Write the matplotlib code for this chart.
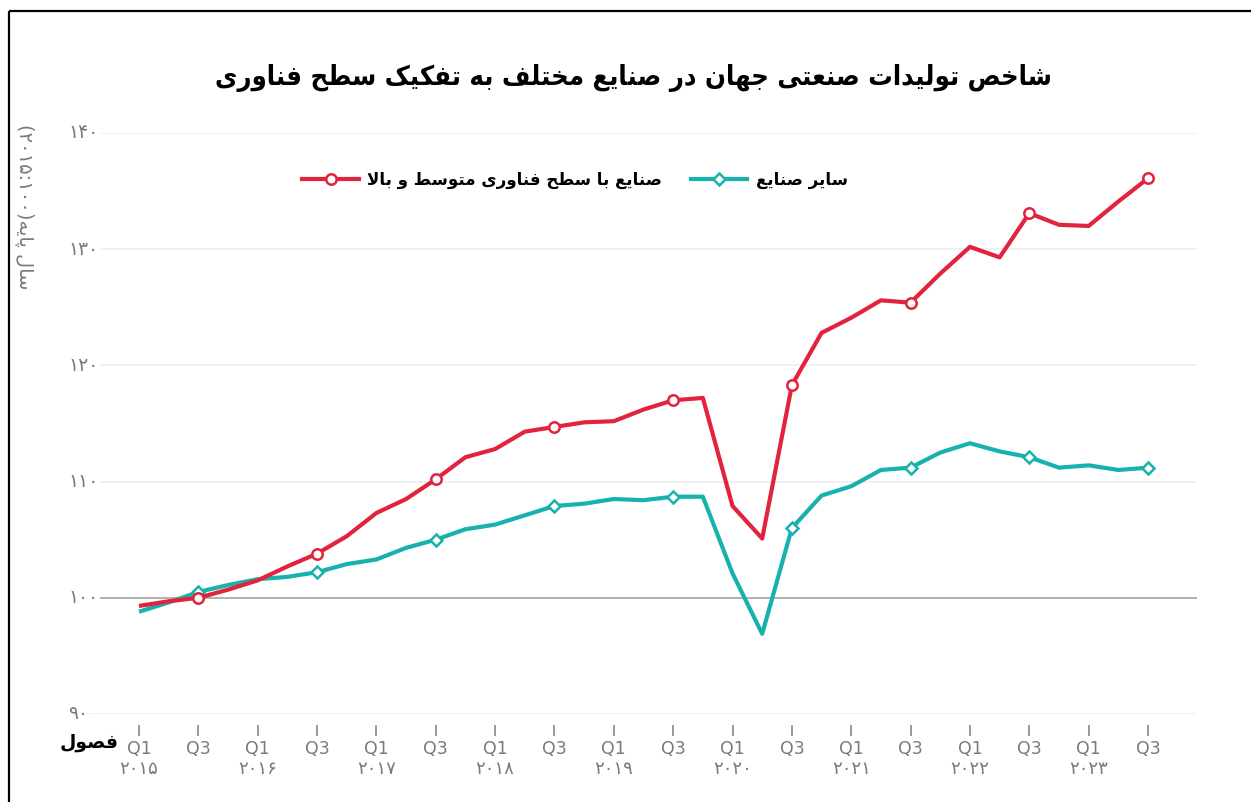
import matplotlib
matplotlib.use("Agg")
import matplotlib.pyplot as plt
from matplotlib.lines import Line2D
import matplotlib.transforms as mtransforms
from matplotlib import font_manager as fm

# ---------------- data ----------------
quarters = ["Q1", "Q2", "Q3", "Q4"] * 8 + ["Q1", "Q2", "Q3"]
high_tech = [99.3, 99.7, 100.0, 100.7, 101.5, 102.7, 103.8, 105.3, 107.3, 108.5,
             110.2, 112.1, 112.8, 114.3, 114.7, 115.1, 115.2, 116.2, 117.0, 117.2,
             107.9, 105.1, 118.3, 122.8, 124.1, 125.6, 125.4, 127.9, 130.2, 129.3,
             133.1, 132.1, 132.0, 134.1, 136.1]
other = [98.8, 99.6, 100.5, 101.1, 101.6, 101.8, 102.2, 102.9, 103.3, 104.3,
         105.0, 105.9, 106.3, 107.1, 107.9, 108.1, 108.5, 108.4, 108.7, 108.7,
         102.1, 96.9, 106.0, 108.8, 109.6, 111.0, 111.2, 112.5, 113.3, 112.6,
         112.1, 111.2, 111.4, 111.0, 111.2]
year_labels = ["۲۰۱۵", "۲۰۱۶", "۲۰۱۷", "۲۰۱۸", "۲۰۱۹", "۲۰۲۰", "۲۰۲۱", "۲۰۲۲", "۲۰۲۳"]
y_values = [90, 100, 110, 120, 130, 140]
y_labels = ["۹۰", "۱۰۰", "۱۱۰", "۱۲۰", "۱۳۰", "۱۴۰"]
title_text = "شاخص تولیدات صنعتی جهان در صنایع مختلف به تفکیک سطح فناوری"
series_names = ["صنایع با سطح فناوری متوسط و بالا", "سایر صنایع"]
ylabel_words = "سال پایه"
ylabel_base = "(۲۰۱۵:۱۰۰)"
xlabel_text = "فصول"

# ---------------- minimal Persian shaping ----------------
FORMS = {
    'ا': ('\uFE8D', '\uFE8E', None, None),
    'ب': ('\uFE8F', '\uFE90', '\uFE91', '\uFE92'),
    'پ': ('\uFB56', '\uFB57', '\uFB58', '\uFB59'),
    'ت': ('\uFE95', '\uFE96', '\uFE97', '\uFE98'),
    'ج': ('\uFE9D', '\uFE9E', '\uFE9F', '\uFEA0'),
    'ح': ('\uFEA1', '\uFEA2', '\uFEA3', '\uFEA4'),
    'خ': ('\uFEA5', '\uFEA6', '\uFEA7', '\uFEA8'),
    'د': ('\uFEA9', '\uFEAA', None, None),
    'ر': ('\uFEAD', '\uFEAE', None, None),
    'س': ('\uFEB1', '\uFEB2', '\uFEB3', '\uFEB4'),
    'ش': ('\uFEB5', '\uFEB6', '\uFEB7', '\uFEB8'),
    'ص': ('\uFEB9', '\uFEBA', '\uFEBB', '\uFEBC'),
    'ط': ('\uFEC1', '\uFEC2', '\uFEC3', '\uFEC4'),
    'ع': ('\uFEC9', '\uFECA', '\uFECB', '\uFECC'),
    'ف': ('\uFED1', '\uFED2', '\uFED3', '\uFED4'),
    'ک': ('\uFB8E', '\uFB8F', '\uFB90', '\uFB91'),
    'ل': ('\uFEDD', '\uFEDE', '\uFEDF', '\uFEE0'),
    'م': ('\uFEE1', '\uFEE2', '\uFEE3', '\uFEE4'),
    'ن': ('\uFEE5', '\uFEE6', '\uFEE7', '\uFEE8'),
    'و': ('\uFEED', '\uFEEE', None, None),
    'ه': ('\uFEE9', '\uFEEA', '\uFEEB', '\uFEEC'),
    'ی': ('\uFBFC', '\uFBFD', '\uFBFE', '\uFBFF'),
}


def joins_left(ch):
    return ch in FORMS and FORMS[ch][2] is not None


def rtl(text):
    out = []
    i = 0
    n = len(text)
    while i < n:
        ch = text[i]
        prev = text[i - 1] if i > 0 else ''
        nxt = text[i + 1] if i + 1 < n else ''
        if ch not in FORMS:
            out.append(ch)
            i += 1
            continue
        jp = joins_left(prev)
        if ch == 'ل' and nxt == 'ا':
            out.append('\uFEFC' if jp else '\uFEFB')
            i += 2
            continue
        jn = joins_left(ch) and nxt in FORMS
        iso, fin, ini, med = FORMS[ch]
        if jp and jn:
            out.append(med)
        elif jp:
            out.append(fin)
        elif jn:
            out.append(ini)
        else:
            out.append(iso)
        i += 1
    return ''.join(reversed(out))


# condensed bold font for the title if available
title_font = None
for f in fm.fontManager.ttflist:
    if "DejaVuSansCondensed-Bold.ttf" in f.fname:
        title_font = f.fname
        break

# ---------------- figure ----------------
W, H = 1251, 802
fig = plt.figure(figsize=(W / 100, H / 100), dpi=100)
fig.patch.set_facecolor("white")

ax_left, ax_right, ax_top, ax_bot = 68, 1197, 133, 714
ax = fig.add_axes([ax_left / W, 1 - ax_bot / H, (ax_right - ax_left) / W, (ax_bot - ax_top) / H])

RED = "#E2233D"
TEAL = "#17B2AE"
GRAY_TXT = "#7a7a7a"

x = list(range(len(high_tech)))
px_per_q = (1148 - 139) / 34.0
x0 = -(139 - ax_left) / px_per_q
x1 = (ax_right - 139) / px_per_q
ax.set_xlim(x0, x1)
ax.set_ylim(90, 140)

for v in y_values:
    if v == 100:
        ax.axhline(v, color="#a9a9a9", lw=1.3, zorder=1)
    else:
        ax.axhline(v, color="#ececec", lw=1.1, zorder=1)

for v, lab in zip(y_values, y_labels):
    ax.text(x0, v, lab, ha="left", va="center", fontsize=13.5, color=GRAY_TXT,
            family="DejaVu Sans", zorder=5,
            bbox=dict(facecolor="white", edgecolor="none", pad=1.2))

ax.plot(x, other, color=TEAL, lw=3.0, marker="D", markersize=6, markerfacecolor="white",
        markeredgecolor=TEAL, markeredgewidth=1.8, markevery=slice(2, None, 4), zorder=3,
        solid_joinstyle="round", solid_capstyle="butt")
ax.plot(x, high_tech, color=RED, lw=3.0, marker="o", markersize=7.5, markerfacecolor="white",
        markeredgecolor=RED, markeredgewidth=1.8, markevery=slice(2, None, 4), zorder=4,
        solid_joinstyle="round", solid_capstyle="butt")

for s in ax.spines.values():
    s.set_visible(False)
ax.spines["bottom"].set_position(("outward", 8))
ax.set_yticks([])
tick_pos = x[::2]
ax.set_xticks(tick_pos)
ax.set_xticklabels([quarters[i] for i in tick_pos], fontsize=12.5, color=GRAY_TXT)
ax.tick_params(axis="x", length=8, width=1.2, color="#888888", pad=3)

trans = mtransforms.blended_transform_factory(ax.transData, ax.transAxes)
year_pos = x[::4]
for xp, yl in zip(year_pos, year_labels):
    ax.text(xp, -(769 - ax_bot) / (ax_bot - ax_top), yl, transform=trans, ha="center",
            va="center", fontsize=13, color=GRAY_TXT, family="DejaVu Sans")

ax.text(-(139 - 119) / px_per_q, -(743 - ax_bot) / (ax_bot - ax_top), rtl(xlabel_text),
        transform=trans, ha="right", va="center", fontsize=13.5, color="black",
        fontweight="bold", family="DejaVu Sans")

# legend
handles = [
    Line2D([0], [0], color=RED, lw=3.0, marker="o", markersize=7.5, markerfacecolor="white",
           markeredgecolor=RED, markeredgewidth=1.8),
    Line2D([0], [0], color=TEAL, lw=3.0, marker="D", markersize=6, markerfacecolor="white",
           markeredgecolor=TEAL, markeredgewidth=1.8),
]
leg = fig.legend(handles, [rtl(s) for s in series_names], loc="center",
                 bbox_to_anchor=(575 / W, 1 - 180 / H), ncol=2, frameon=False,
                 prop=dict(family="DejaVu Sans", size=12, weight="bold"), handlelength=3.4,
                 handletextpad=0.5, columnspacing=1.7, numpoints=1)

# title
if title_font:
    tprop = fm.FontProperties(fname=title_font, size=19.6)
else:
    tprop = fm.FontProperties(family="DejaVu Sans", weight="bold", size=17.7)
fig.text(633 / W, 1 - 78 / H, rtl(title_text), ha="center", va="center",
         fontproperties=tprop, color="black")

# y label
fig.text(25 / W, 1 - 207 / H, ylabel_base + rtl(ylabel_words), rotation=270,
         ha="center", va="center", fontsize=14, color=GRAY_TXT, family="DejaVu Sans")

# frame lines (top and left)
fig.add_artist(Line2D([8.5 / W, 8.5 / W], [0, 1 - 11 / H], transform=fig.transFigure,
                      color="black", lw=1.6, solid_capstyle="butt"))
fig.add_artist(Line2D([8.5 / W, 1.01], [1 - 11 / H, 1 - 11 / H], transform=fig.transFigure,
                      color="black", lw=1.6, solid_capstyle="butt"))

fig.savefig("out.png", dpi=100, facecolor="white")
